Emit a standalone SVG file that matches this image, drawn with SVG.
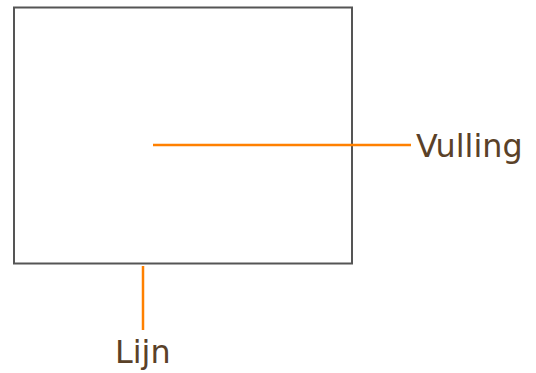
<svg xmlns="http://www.w3.org/2000/svg" width="536" height="373" viewBox="0 0 536 373">
<style>
.box{fill:#fff;stroke:#555;stroke-width:2}
.lead{stroke:#ff8000;stroke-width:2.5;fill:none}
.lbl{font-family:"DejaVu Sans",sans-serif;font-size:31.8px;fill:#5a4128}
</style>
<rect width="536" height="373" fill="#fff"/>
<g id="shape"><rect class="box" x="14" y="7.5" width="338" height="256"/></g>
<g id="connectors">
<line class="lead" x1="153" y1="145" x2="411" y2="145"/>
<line class="lead" x1="143" y1="266" x2="143" y2="330"/>
</g>
<g id="label-vulling"><text class="lbl" x="416" y="157">Vulling</text></g>
<g id="label-lijn"><text class="lbl" x="115" y="363">Lijn</text></g>
</svg>
